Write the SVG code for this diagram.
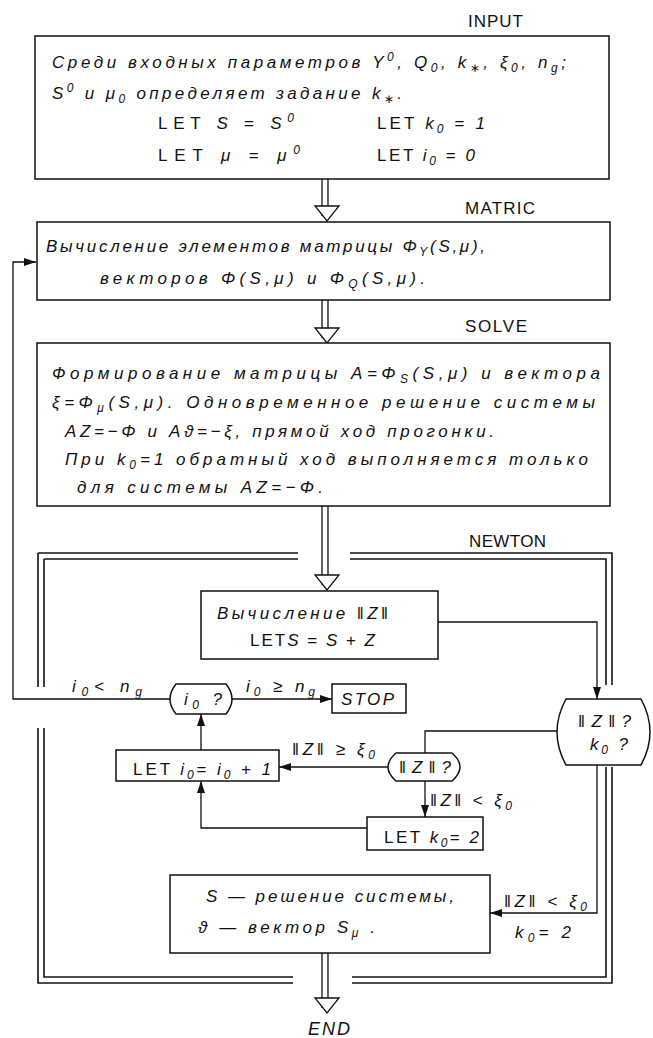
<svg xmlns="http://www.w3.org/2000/svg" width="653" height="1038" viewBox="0 0 653 1038">
<defs>
<style>
.box{fill:#fff;stroke:#111;stroke-width:1.5}
.ln{fill:none;stroke:#111;stroke-width:1.3}
.bd{fill:none;stroke:#111;stroke-width:1.6}
.hh{fill:#fff;stroke:#111;stroke-width:1.3}
text{font-family:"Liberation Sans","DejaVu Sans",sans-serif;fill:#111;font-size:17px}
.it{font-style:italic}
.up{font-style:normal}
.lbl{font-size:17px}
.s{font-size:12px}
</style>
<marker id="ah" viewBox="0 0 12 8" refX="12" refY="4" markerWidth="12" markerHeight="8" markerUnits="userSpaceOnUse" orient="auto"><path d="M0,0 L12,4 L0,8 Z" fill="#111"/></marker>
</defs>
<rect width="653" height="1038" fill="#fff"/>

<g id="connectors">
  <!-- double hollow arrows -->
  <path class="ln" d="M322,179 V216 M328,179 V216"/>
  <polygon class="hh" points="315,206 339,206 327,221"/>
  <path class="ln" d="M322,300 V338 M328,300 V338"/>
  <polygon class="hh" points="315,328 339,328 327,343"/>
  <path class="ln" d="M322,506 V585 M328,506 V585"/>
  <polygon class="hh" points="315,575 339,575 327,590"/>
  <path class="ln" d="M322,953 V1008 M328,953 V1008"/>
  <polygon class="hh" points="315,998 339,998 327,1013"/>
  <!-- feedback loop -->
  <path class="ln" d="M170,699 H13 V262 H36" marker-end="url(#ah)"/>
  <!-- calc to big decision -->
  <path class="ln" d="M438,622 H597 V699" marker-end="url(#ah)"/>
  <!-- i0? to STOP -->
  <path class="ln" d="M232,699 H332" marker-end="url(#ah)"/>
  <!-- LET i0 to i0? -->
  <path class="ln" d="M201,750 V714" marker-end="url(#ah)"/>
  <!-- big node to small node -->
  <path class="ln" d="M557,731 H425 V753"/>
  <!-- small node to LET i0 -->
  <path class="ln" d="M388,767 H279" marker-end="url(#ah)"/>
  <!-- small node to LET k0 -->
  <path class="ln" d="M425,781 V817" marker-end="url(#ah)"/>
  <!-- LET k0 to LET i0 -->
  <path class="ln" d="M367,828 H201 V781" marker-end="url(#ah)"/>
  <!-- big node to result -->
  <path class="ln" d="M597,765 V913 H490" marker-end="url(#ah)"/>
</g>

<g id="labels">
  <text class="lbl" x="468" y="27" textLength="55">INPUT</text>
  <text class="lbl" x="465" y="214" textLength="70">MATRIC</text>
  <text class="lbl" x="465" y="332" textLength="62">SOLVE</text>
  <text class="lbl" x="469" y="547" textLength="77">NEWTON</text>
</g>

<g id="newton-frame">
  <path class="bd" d="M38,553 H298 M350,553 H612 V685 M612,767 V983 H352 M293,983 H38 V728 M38,687 V553"/>
  <path class="bd" d="M44,559 H298 M350,559 H606 V685 M606,767 V977 H352 M293,977 H44 V728 M44,687 V559"/>
</g>

<g id="input">
  <rect class="box" x="35" y="36" width="574" height="143"/>
  <text class="it" x="52" y="68" textLength="514">Среди входных параметров Y<tspan class="s" dy="-7">0</tspan><tspan dy="7">, Q</tspan><tspan class="s" dy="4">0</tspan><tspan dy="-4">, k</tspan><tspan class="s" dy="4">∗</tspan><tspan dy="-4">, ξ</tspan><tspan class="s" dy="4">0</tspan><tspan dy="-4">, n</tspan><tspan class="s" dy="4">g</tspan><tspan dy="-4">;</tspan></text>
  <text class="it" x="52" y="99" textLength="350">S<tspan class="s" dy="-7">0</tspan><tspan dy="7"> и μ</tspan><tspan class="s" dy="4">0</tspan><tspan dy="-4"> определяет задание k</tspan><tspan class="s" dy="4">∗</tspan><tspan dy="-4">.</tspan></text>
  <text x="158" y="129" textLength="136">LET <tspan class="it">S</tspan> = <tspan class="it">S</tspan><tspan class="s it" dy="-7">0</tspan></text>
  <text x="377" y="129" textLength="108">LET <tspan class="it">k</tspan><tspan class="s it" dy="4">0</tspan><tspan dy="-4"> = </tspan><tspan class="it">1</tspan></text>
  <text x="158" y="161" textLength="142">LET <tspan class="it">μ</tspan> = <tspan class="it">μ</tspan><tspan class="s it" dy="-7">0</tspan></text>
  <text x="377" y="161" textLength="98">LET <tspan class="it">i</tspan><tspan class="s it" dy="4">0</tspan><tspan dy="-4"> = </tspan><tspan class="it">0</tspan></text>
</g>

<g id="matric">
  <rect class="box" x="37" y="222" width="573" height="78"/>
  <text class="it" x="46" y="252" textLength="439">Вычисление элементов матрицы Φ<tspan class="s" dy="4">Y</tspan><tspan dy="-4">(S,μ),</tspan></text>
  <text class="it" x="100" y="284" textLength="325">векторов Φ(S,μ) и Φ<tspan class="s" dy="4">Q</tspan><tspan dy="-4">(S,μ).</tspan></text>
</g>

<g id="solve">
  <rect class="box" x="37" y="343" width="573" height="163"/>
  <text class="it" x="52" y="379" textLength="548">Формирование матрицы A=Φ<tspan class="s" dy="4">S</tspan><tspan dy="-4">(S,μ) и вектора</tspan></text>
  <text class="it" x="52" y="408" textLength="543">ξ=Φ<tspan class="s" dy="4">μ</tspan><tspan dy="-4">(S,μ). Одновременное решение системы</tspan></text>
  <text class="it" x="65" y="437" textLength="429">AZ=−Φ и Aϑ=−ξ, прямой ход прогонки.</text>
  <text class="it" x="65" y="465" textLength="523">При k<tspan class="s" dy="4">0</tspan><tspan dy="-4">=1 обратный ход выполняется только</tspan></text>
  <text class="it" x="77" y="493" textLength="246">для системы AZ=−Φ.</text>
</g>

<g id="calc">
  <rect class="box" x="201" y="591" width="237" height="68"/>
  <text class="it" x="217" y="619" textLength="171">Вычисление <tspan class="up">‖</tspan>Z<tspan class="up">‖</tspan></text>
  <text x="250" y="646" textLength="125">LET<tspan class="it">S</tspan> = <tspan class="it">S</tspan> + <tspan class="it">Z</tspan></text>
</g>

<g id="i0-check">
  <path class="box" d="M176,684 H226 Q238,699 226,714 H176 Q164,699 176,684 Z"/>
  <text class="it" x="184" y="705" textLength="38">i<tspan class="s" dy="4">0</tspan><tspan dy="-4"> ?</tspan></text>
  <text class="it" x="72" y="692" textLength="70">i<tspan class="s" dy="4">0</tspan><tspan dy="-4">&lt; n</tspan><tspan class="s" dy="4">g</tspan></text>
  <text class="it" x="246" y="692" textLength="69">i<tspan class="s" dy="4">0</tspan><tspan dy="-4"> ≥ n</tspan><tspan class="s" dy="4">g</tspan></text>
</g>

<g id="stop">
  <rect class="box" x="332" y="684" width="74" height="29"/>
  <text class="it" x="341" y="705" textLength="53">STOP</text>
</g>

<g id="norm-k0-check">
  <path class="box" d="M566,699 H641 Q659,732 641,765 H566 Q548,732 566,699 Z"/>
  <text x="578" y="727" textLength="53">‖<tspan class="it">Z</tspan>‖<tspan class="it">?</tspan></text>
  <text class="it" x="590" y="750" textLength="38">k<tspan class="s" dy="4">0</tspan><tspan dy="-4"> ?</tspan></text>
</g>

<g id="norm-check">
  <path class="box" d="M396,753 H452 Q468,767 452,781 H396 Q380,767 396,753 Z"/>
  <text x="399" y="773" textLength="52">‖<tspan class="it">Z</tspan>‖<tspan class="it">?</tspan></text>
  <text x="292" y="755" textLength="83">‖<tspan class="it">Z</tspan>‖ ≥ <tspan class="it">ξ</tspan><tspan class="s it" dy="4">0</tspan></text>
  <text x="430" y="806" textLength="82">‖<tspan class="it">Z</tspan>‖ &lt; <tspan class="it">ξ</tspan><tspan class="s it" dy="4">0</tspan></text>
</g>

<g id="inc-i0">
  <rect class="box" x="116" y="750" width="163" height="31"/>
  <text x="133" y="775" textLength="138">LET <tspan class="it">i</tspan><tspan class="s it" dy="4">0</tspan><tspan dy="-4">= </tspan><tspan class="it">i</tspan><tspan class="s it" dy="4">0</tspan><tspan dy="-4"> + </tspan><tspan class="it">1</tspan></text>
</g>

<g id="set-k0">
  <rect class="box" x="367" y="817" width="116" height="33"/>
  <text x="384" y="843" textLength="95">LET <tspan class="it">k</tspan><tspan class="s it" dy="4">0</tspan><tspan dy="-4">= </tspan><tspan class="it">2</tspan></text>
</g>

<g id="result">
  <rect class="box" x="170" y="875" width="320" height="78"/>
  <text class="it" x="206" y="902" textLength="248">S — решение системы,</text>
  <text class="it" x="198" y="933" textLength="177">ϑ — вектор S<tspan class="s" dy="4">μ</tspan><tspan dy="-4"> .</tspan></text>
  <text x="504" y="907" textLength="83">‖<tspan class="it">Z</tspan>‖ &lt; <tspan class="it">ξ</tspan><tspan class="s it" dy="4">0</tspan></text>
  <text class="it" x="515" y="938" textLength="56">k<tspan class="s" dy="4">0</tspan><tspan dy="-4">= 2</tspan></text>
</g>

<g id="end">
  <text class="it" x="308" y="1035" textLength="42" style="font-size:18px">END</text>
</g>
</svg>
